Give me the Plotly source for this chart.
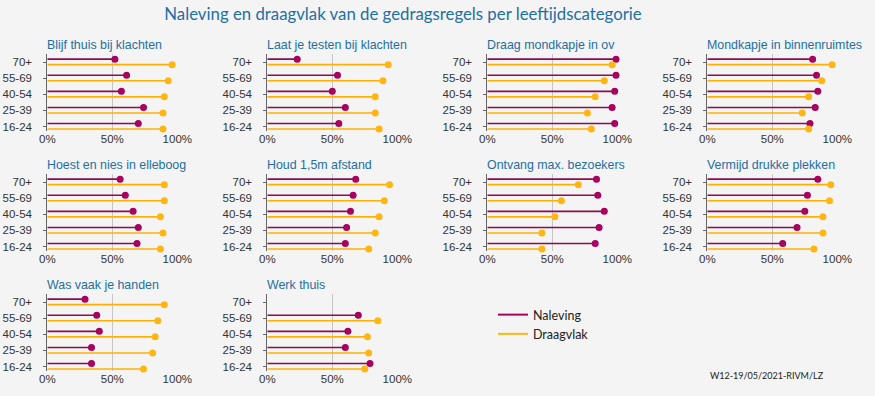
import plotly.graph_objects as go

W, H = 875, 396

# ---------------- data ----------------
categories = ["70+", "55-69", "40-54", "25-39", "16-24"]  # top to bottom

panel_titles = [
    "Blijf thuis bij klachten", "Laat je testen bij klachten", "Draag mondkapje in ov",
    "Mondkapje in binnenruimtes", "Hoest en nies in elleboog", "Houd 1,5m afstand",
    "Ontvang max. bezoekers", "Vermijd drukke plekken", "Was vaak je handen", "Werk thuis",
]

naleving_blijf_thuis = [52, 61, 57, 74, 70]
draagvlak_blijf_thuis = [96, 93, 90, 89, 89]
naleving_testen = [23, 54, 50, 60, 55]
draagvlak_testen = [93, 89, 83, 83, 86]
naleving_mondkapje_ov = [99, 99, 98, 96, 98]
draagvlak_mondkapje_ov = [96, 90, 83, 77, 80]
naleving_mondkapje_binnen = [81, 84, 85, 83, 79]
draagvlak_mondkapje_binnen = [96, 88, 78, 73, 78]
naleving_hoest = [56, 60, 66, 70, 69]
draagvlak_hoest = [90, 90, 87, 89, 87]
naleving_afstand = [68, 66, 64, 61, 60]
draagvlak_afstand = [94, 90, 86, 83, 78]
naleving_bezoekers = [84, 85, 90, 86, 83]
draagvlak_bezoekers = [70, 57, 52, 42, 42]
naleving_drukte = [85, 77, 75, 69, 58]
draagvlak_drukte = [95, 94, 89, 89, 82]
naleving_handen = [29, 38, 40, 34, 34]
draagvlak_handen = [90, 85, 83, 81, 74]
naleving_werk_thuis = [None, 70, 62, 60, 79]
draagvlak_werk_thuis = [None, 85, 77, 78, 75]

x_tickvals = [0, 50, 100]
x_ticktext = ["0%", "50%", "100%"]

naleving_all = [naleving_blijf_thuis, naleving_testen, naleving_mondkapje_ov,
                naleving_mondkapje_binnen, naleving_hoest, naleving_afstand,
                naleving_bezoekers, naleving_drukte, naleving_handen, naleving_werk_thuis]
draagvlak_all = [draagvlak_blijf_thuis, draagvlak_testen, draagvlak_mondkapje_ov,
                 draagvlak_mondkapje_binnen, draagvlak_hoest, draagvlak_afstand,
                 draagvlak_bezoekers, draagvlak_drukte, draagvlak_handen, draagvlak_werk_thuis]

# ---------------- style ----------------
BG = "#f4f4f4"
N_LINE = "#8c0b52"
N_DOT = "#a8005f"
D_LINE = "#ffb000"
D_DOT = "#ffb612"
BLUE = "#1f6fa6"
TXT = "#333333"
OFF_N = 0.18
OFF_D = -0.16

col_x0 = [47.3, 267.3, 487.3, 707.3]   # pixel of 0%
px_per_100 = 130
row_top = [54, 174, 294]
plot_h = 76.5
yrange = [-0.25, 4.5]

fig = go.Figure()

n = len(categories)
idx = [n - 1 - i for i in range(n)]

for p in range(len(panel_titles)):
    r, c = divmod(p, 4)
    ax = "" if p == 0 else str(p + 1)
    xa, ya = "x" + ax, "y" + ax
    nv, dv = naleving_all[p], draagvlak_all[p]

    for vals, off, lc, dc in ((nv, OFF_N, N_LINE, N_DOT), (dv, OFF_D, D_LINE, D_DOT)):
        lx, ly = [], []
        mx, my = [], []
        for i, v in enumerate(vals):
            if v is None:
                continue
            lx += [0, v, None]
            ly += [idx[i] + off, idx[i] + off, None]
            mx.append(v)
            my.append(idx[i] + off)
        fig.add_trace(go.Scatter(x=lx, y=ly, mode="lines", xaxis=xa, yaxis=ya,
                                 line=dict(color=lc, width=1.6), showlegend=False,
                                 hoverinfo="skip", cliponaxis=False))
        fig.add_trace(go.Scatter(x=mx, y=my, mode="markers", xaxis=xa, yaxis=ya,
                                 marker=dict(color=dc, size=7), showlegend=False,
                                 cliponaxis=False))

    x0 = col_x0[c] / W
    x1 = (col_x0[c] + px_per_100) / W
    y1 = 1 - row_top[r] / H
    y0 = 1 - (row_top[r] + plot_h) / H
    fig.layout["xaxis" + ax] = dict(
        domain=[x0, x1], range=[0, 100], anchor=ya, automargin=False,
        tickvals=x_tickvals, ticktext=x_ticktext, showgrid=True,
        gridcolor="#c6c6c6", gridwidth=1, zeroline=False, showline=False,
        tickfont=dict(family="Liberation Sans, Arial", size=11.5, color=TXT),
        ticks="", fixedrange=True,
    )
    fig.layout["yaxis" + ax] = dict(
        domain=[y0, y1], range=yrange, anchor=xa, automargin=False,
        tickvals=idx, ticktext=categories, showgrid=False, zeroline=False,
        showline=True, linecolor="#666666", linewidth=1,
        ticks="outside", ticklen=3, tickcolor="#666666",
        ticklabelstandoff=9,
        tickfont=dict(family="Liberation Sans, Arial", size=11.5, color=TXT),
        fixedrange=True,
    )
    fig.add_annotation(text=panel_titles[p], xref="paper", yref="paper",
                       x=x0 - 2 / W, y=1 - (row_top[r] - 9) / H, xanchor="left", yanchor="middle",
                       showarrow=False,
                       font=dict(family="Liberation Sans, Arial", size=12.4, color=BLUE))

# legend entries
fig.add_trace(go.Scatter(x=[None], y=[None], mode="lines", name="Naleving",
                         line=dict(color=N_DOT, width=2)))
fig.add_trace(go.Scatter(x=[None], y=[None], mode="lines", name="Draagvlak",
                         line=dict(color=D_DOT, width=2)))

fig.add_annotation(text="W12-19/05/2021-RIVM/LZ", xref="paper", yref="paper",
                   x=708 / W, y=1 - 375 / H, xanchor="left", yanchor="middle",
                   showarrow=False, font=dict(family="Lato", size=9, color="#222222"))

fig.update_layout(
    width=W, height=H,
    margin=dict(l=0, r=0, t=0, b=0, autoexpand=False),
    paper_bgcolor=BG, plot_bgcolor=BG,
    title=dict(text="Naleving en draagvlak van de gedragsregels per leeftijdscategorie",
               x=403 / W, xanchor="center", y=1 - 14 / H, yanchor="middle",
               font=dict(family="Lato", size=16.8, color=BLUE)),
    legend=dict(x=493 / W, y=1 - 300 / H, xanchor="left", yanchor="top",
                bgcolor="rgba(0,0,0,0)", font=dict(family="Lato", size=12.5, color="#222222"),
                tracegroupgap=0, itemwidth=30),
    showlegend=True,
)

fig.write_html(
    "out.html",
    config={"displayModeBar": False},
    post_script="document.body.style.margin='0';document.body.style.padding='0';"
                "document.body.style.background='#f4f4f4';",
)
